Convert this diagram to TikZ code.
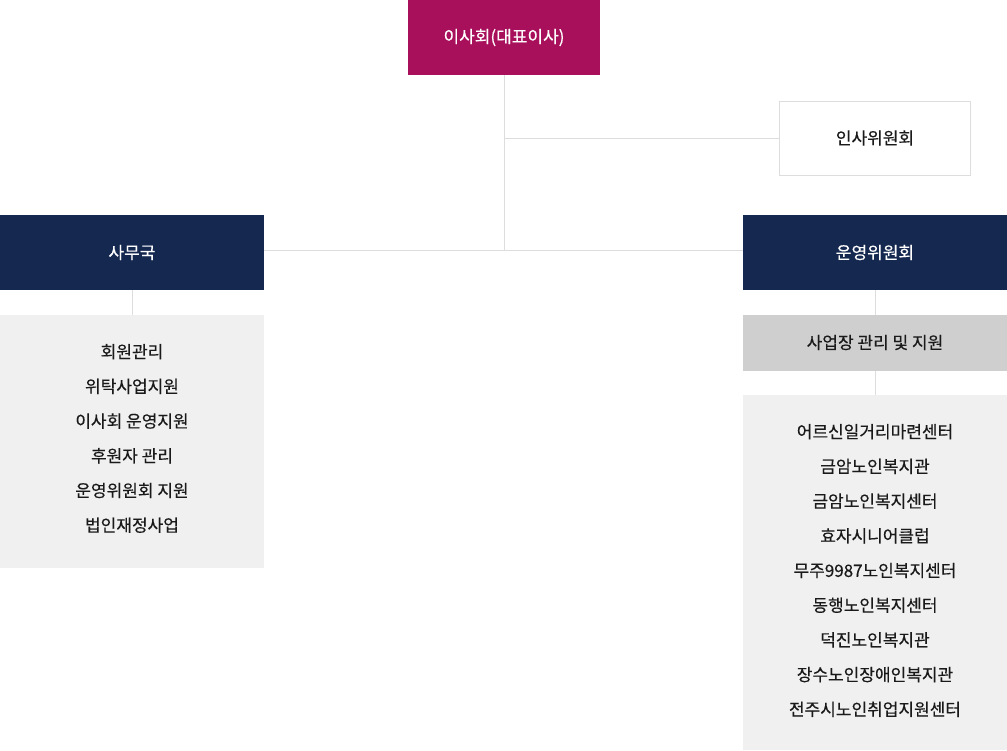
\documentclass[tikz,border=0pt]{standalone}
\usepackage{fontspec}
\setmainfont{Noto Sans CJK KR}[UprightFeatures={FakeBold=0.35}]
\definecolor{magentabox}{HTML}{A8105C}
\definecolor{navybox}{HTML}{152850}
\definecolor{lightgreybox}{HTML}{F0F0F0}
\definecolor{midgreybox}{HTML}{CFCFCF}
\definecolor{linegrey}{HTML}{DDDDDD}
\definecolor{textdark}{HTML}{1A1A1A}
\begin{document}
\begin{tikzpicture}[x=1pt,y=-1pt,
  box/.style={inner sep=0pt, outer sep=0pt, font=\fontsize{17}{20}\selectfont},
  topbox/.style={box, fill=magentabox, text=white, minimum width=192pt, minimum height=75pt},
  navy/.style={box, fill=navybox, text=white, minimum width=264pt, minimum height=75pt},
  whitebox/.style={box, fill=white, draw=linegrey, line width=0.8pt, text=textdark, minimum width=191pt, minimum height=74pt},
  greybox/.style={box, fill=midgreybox, text=textdark, minimum width=264pt, minimum height=56pt},
  listbox/.style={box, fill=lightgreybox, text=textdark, align=center, font=\fontsize{17}{34.7}\selectfont},
  conn/.style={draw=linegrey, line width=0.8pt}
]
\useasboundingbox (0,0) rectangle (1007,750);
\coordinate (hub) at (504,138);
\coordinate (mid) at (504,250);
\node[topbox] (board) at (504,37.5) {이사회(대표이사)};
\node[whitebox] (hr) at (875,138) {인사위원회};
\node[navy] (office) at (132,252.5) {사무국};
\node[navy] (ops) at (875,252.5) {운영위원회};
\node[greybox] (site) at (875,342.5) {사업장 관리 및 지원};
\fill[lightgreybox] (0,315) rectangle (264,568);
\fill[lightgreybox] (743,395) rectangle (1007,750);
\coordinate (lefttop) at (132,315);
\coordinate (righttop) at (875,395);
\node[listbox, anchor=north] (leftlist) at (132,344) {회원관리\\위탁사업지원\\이사회 운영지원\\후원자 관리\\운영위원회 지원\\법인재정사업};
\node[listbox, anchor=north] (rightlist) at (875,424) {어르신일거리마련센터\\금암노인복지관\\금암노인복지센터\\효자시니어클럽\\무주9987노인복지센터\\동행노인복지센터\\덕진노인복지관\\장수노인장애인복지관\\전주시노인취업지원센터};
\draw[conn] (board.south) -- (mid);
\draw[conn] (hub) -- (hr.west);
\draw[conn] (office.east |- mid) -- (ops.west |- mid);
\draw[conn] (office.south) -- (lefttop);
\draw[conn] (ops.south) -- (site.north);
\draw[conn] (site.south) -- (righttop);
\end{tikzpicture}
\end{document}
